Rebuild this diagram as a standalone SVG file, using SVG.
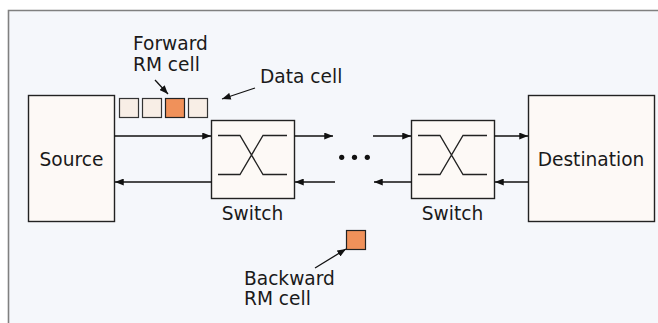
<svg xmlns="http://www.w3.org/2000/svg" width="658" height="323" viewBox="0 0 658 323">
  <defs>
    <marker id="ah" viewBox="0 0 10 8" refX="10" refY="4" markerWidth="9" markerHeight="7" markerUnits="userSpaceOnUse" orient="auto">
      <path d="M0,0 L10,4 L0,8 Z" fill="#111"/>
    </marker>
    <style>
      .box { fill: #fdf9f6; stroke: #222; stroke-width: 1.4; }
      .cell { fill: #f8eee6; stroke: #333; stroke-width: 1.2; }
      .rm { fill: #f0915a; stroke: #222; stroke-width: 1.2; }
      .wire { fill: none; stroke: #222; stroke-width: 1.3; }
      .conn { fill: none; stroke: #111; stroke-width: 1.3; marker-end: url(#ah); }
      .lbl { font-family: "DejaVu Sans", "Liberation Sans", sans-serif; font-size: 18.6px; fill: #1a1a1a; }
    </style>
  </defs>
  <rect x="0" y="0" width="658" height="323" fill="#ffffff"/>
  <rect x="8" y="10" width="650" height="313" fill="#f5f7fb"/>
  <path d="M8.5,323 L8.5,10.5 L658,10.5" fill="none" stroke="#808080" stroke-width="1.6"/>

  <g id="source">
    <rect class="box" x="28.5" y="95.5" width="86" height="126"/>
    <text class="lbl" x="71.5" y="165.5" text-anchor="middle">Source</text>
  </g>
  <g id="switch1">
    <rect class="box" x="211.5" y="120.5" width="83" height="78"/>
    <path class="wire" d="M218,135.5 H240 L263,174.5 H287 M218,174.5 H240 L263,135.5 H287"/>
    <text class="lbl" x="252.5" y="220" text-anchor="middle">Switch</text>
  </g>
  <g id="switch2">
    <rect class="box" x="411.5" y="120.5" width="83" height="78"/>
    <path class="wire" d="M418,135.5 H440 L463,174.5 H487 M418,174.5 H440 L463,135.5 H487"/>
    <text class="lbl" x="452.5" y="220" text-anchor="middle">Switch</text>
  </g>
  <g id="destination">
    <rect class="box" x="528.5" y="95.5" width="126" height="126"/>
    <text class="lbl" x="591" y="165.5" text-anchor="middle">Destination</text>
  </g>
  <g id="cells">
    <rect class="cell" x="119.5" y="98.5" width="19" height="19"/>
    <rect class="cell" x="142.5" y="98.5" width="19" height="19"/>
    <rect class="rm" x="165.5" y="98.5" width="19" height="19"/>
    <rect class="cell" x="188.5" y="98.5" width="19" height="19"/>
  </g>
  <g id="forward-rm-label">
    <text class="lbl" x="133" y="50">Forward</text>
    <text class="lbl" x="133" y="70.5">RM cell</text>
  </g>
  <g id="data-cell-label">
    <text class="lbl" x="260" y="82.5">Data cell</text>
  </g>
  <g id="backward-rm">
    <rect class="rm" x="346.5" y="230.5" width="19" height="19"/>
    <text class="lbl" x="244" y="285">Backward</text>
    <text class="lbl" x="244" y="305">RM cell</text>
  </g>
  <g id="dots" fill="#111">
    <circle cx="341.7" cy="157.3" r="2.6"/>
    <circle cx="354.5" cy="157.3" r="2.6"/>
    <circle cx="367.3" cy="157.3" r="2.6"/>
  </g>
  <g id="connectors">
    <line class="conn" x1="114.5" y1="136" x2="211" y2="136"/>
    <line class="conn" x1="211.5" y1="182" x2="115" y2="182"/>
    <line class="conn" x1="294.5" y1="136" x2="333" y2="136"/>
    <line class="conn" x1="373" y1="136" x2="411" y2="136"/>
    <line class="conn" x1="335" y1="182" x2="295" y2="182"/>
    <line class="conn" x1="411.5" y1="182" x2="374" y2="182"/>
    <line class="conn" x1="494.5" y1="136" x2="528" y2="136"/>
    <line class="conn" x1="528.5" y1="182" x2="495" y2="182"/>
    <line class="conn" x1="155" y1="80" x2="168" y2="94"/>
    <line class="conn" x1="255" y1="88" x2="222" y2="99"/>
    <line class="conn" x1="315" y1="268" x2="346" y2="249"/>
  </g>
</svg>
